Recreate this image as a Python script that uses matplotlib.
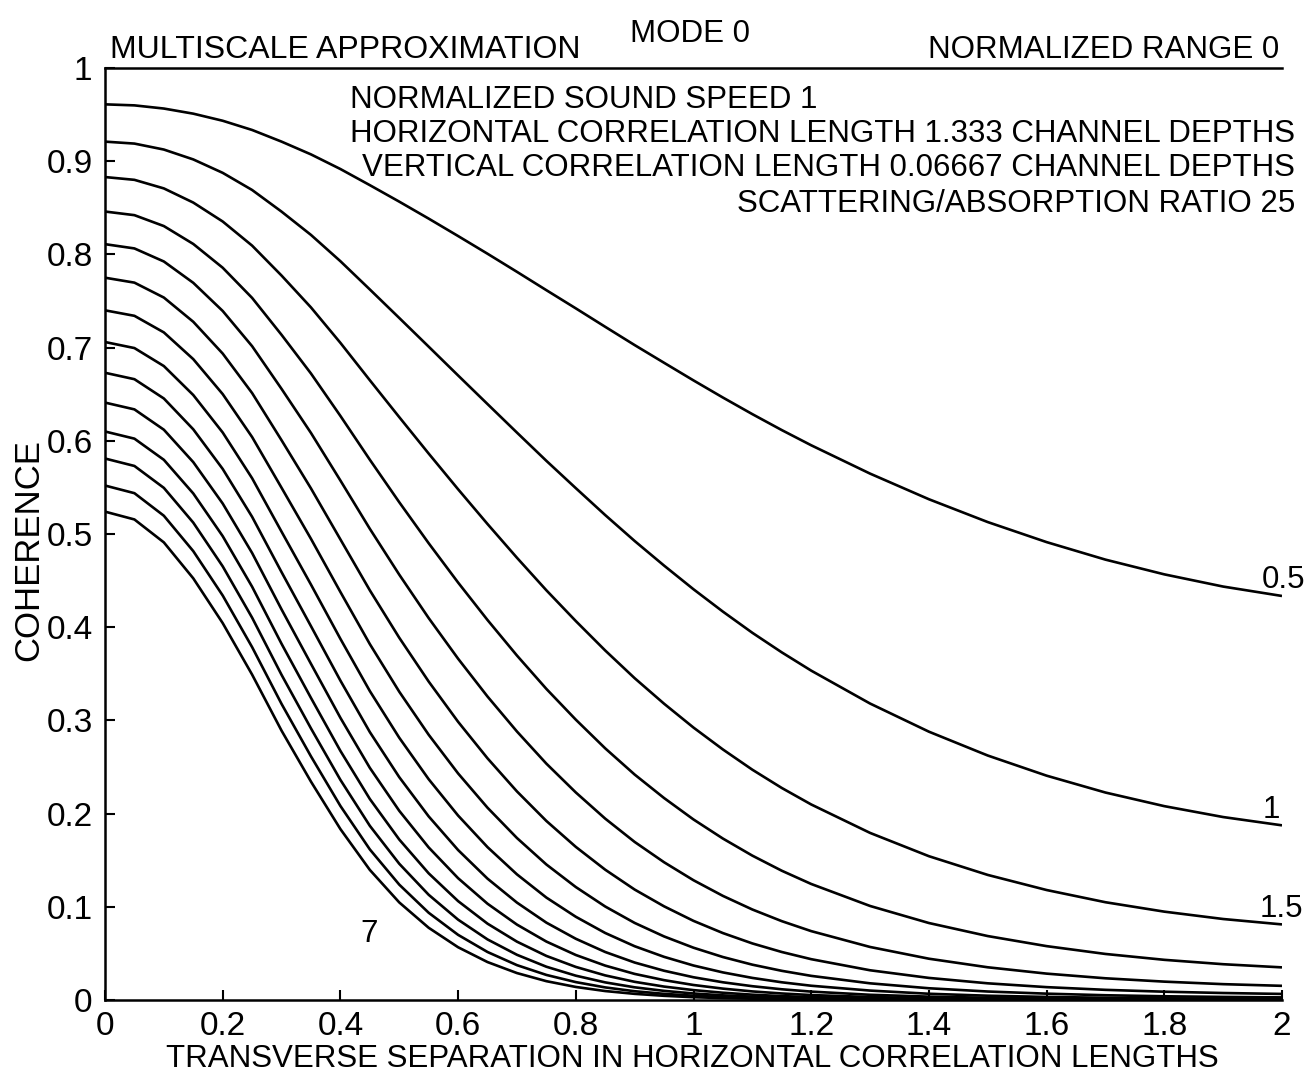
import matplotlib
matplotlib.use("Agg")
import matplotlib.pyplot as plt

plt.rcParams["font.family"] = ["Liberation Sans", "DejaVu Sans"]

# Transverse separation (horizontal correlation lengths)
separation = [0.00, 0.05, 0.10, 0.15, 0.20, 0.25, 0.30, 0.35, 0.40, 0.45, 0.50,
              0.55, 0.60, 0.65, 0.70, 0.75, 0.80, 0.85, 0.90, 0.95, 1.00, 1.05,
              1.10, 1.15, 1.20, 1.30, 1.40, 1.50, 1.60, 1.70, 1.80, 1.90, 2.00]

# Normalized range of each coherence curve
ranges = [0.5, 1.0, 1.5, 2.0, 2.5, 3.0, 3.5, 4.0, 4.5, 5.0, 5.5, 6.0, 6.5, 7.0]

coh_r05 = [0.9610, 0.9599, 0.9565, 0.9510, 0.9434, 0.9335, 0.9210, 0.9073, 0.8916, 0.8743, 0.8566,
           0.8384, 0.8197, 0.8007, 0.7813, 0.7616, 0.7421, 0.7223, 0.7027, 0.6837, 0.6648, 0.6464,
           0.6286, 0.6115, 0.5952, 0.5648, 0.5373, 0.5128, 0.4913, 0.4725, 0.4567, 0.4436, 0.4335]
coh_r10 = [0.9210, 0.9189, 0.9125, 0.9019, 0.8875, 0.8691, 0.8459, 0.8209, 0.7927, 0.7624, 0.7318,
           0.7010, 0.6701, 0.6394, 0.6088, 0.5785, 0.5492, 0.5203, 0.4925, 0.4661, 0.4407, 0.4167,
           0.3940, 0.3730, 0.3534, 0.3181, 0.2879, 0.2623, 0.2407, 0.2226, 0.2080, 0.1963, 0.1874]
coh_r15 = [0.8830, 0.8800, 0.8708, 0.8556, 0.8353, 0.8094, 0.7773, 0.7431, 0.7051, 0.6650, 0.6254,
           0.5863, 0.5480, 0.5107, 0.4745, 0.4396, 0.4066, 0.3750, 0.3453, 0.3179, 0.2923, 0.2688,
           0.2471, 0.2275, 0.2098, 0.1793, 0.1543, 0.1342, 0.1180, 0.1049, 0.0948, 0.0869, 0.0811]
coh_r20 = [0.8460, 0.8421, 0.8304, 0.8112, 0.7857, 0.7533, 0.7137, 0.6722, 0.6267, 0.5797, 0.5341,
           0.4901, 0.4479, 0.4077, 0.3696, 0.3338, 0.3008, 0.2700, 0.2419, 0.2167, 0.1937, 0.1732,
           0.1549, 0.1387, 0.1245, 0.1009, 0.0826, 0.0686, 0.0578, 0.0494, 0.0431, 0.0384, 0.0350]
coh_r25 = [0.8110, 0.8064, 0.7924, 0.7695, 0.7393, 0.7015, 0.6557, 0.6084, 0.5574, 0.5056, 0.4564,
           0.4098, 0.3662, 0.3256, 0.2881, 0.2536, 0.2227, 0.1946, 0.1696, 0.1478, 0.1285, 0.1117,
           0.0971, 0.0846, 0.0739, 0.0569, 0.0443, 0.0351, 0.0283, 0.0233, 0.0197, 0.0170, 0.0152]
coh_r30 = [0.7750, 0.7697, 0.7537, 0.7277, 0.6936, 0.6512, 0.6006, 0.5489, 0.4942, 0.4396, 0.3887,
           0.3417, 0.2985, 0.2593, 0.2238, 0.1921, 0.1643, 0.1398, 0.1185, 0.1005, 0.0849, 0.0718,
           0.0607, 0.0515, 0.0438, 0.0319, 0.0237, 0.0179, 0.0138, 0.0109, 0.0089, 0.0075, 0.0065]
coh_r35 = [0.7400, 0.7341, 0.7163, 0.6876, 0.6501, 0.6040, 0.5496, 0.4948, 0.4378, 0.3819, 0.3308,
           0.2846, 0.2431, 0.2063, 0.1738, 0.1454, 0.1212, 0.1003, 0.0827, 0.0682, 0.0561, 0.0461,
           0.0379, 0.0313, 0.0259, 0.0179, 0.0126, 0.0091, 0.0068, 0.0051, 0.0040, 0.0033, 0.0028]
coh_r40 = [0.7060, 0.6995, 0.6802, 0.6491, 0.6089, 0.5598, 0.5025, 0.4457, 0.3875, 0.3315, 0.2814,
           0.2369, 0.1979, 0.1640, 0.1348, 0.1099, 0.0893, 0.0719, 0.0577, 0.0463, 0.0370, 0.0296,
           0.0237, 0.0190, 0.0153, 0.0101, 0.0067, 0.0046, 0.0033, 0.0024, 0.0018, 0.0015, 0.0012]
coh_r45 = [0.6730, 0.6661, 0.6454, 0.6123, 0.5698, 0.5184, 0.4591, 0.4011, 0.3427, 0.2875, 0.2391,
           0.1970, 0.1609, 0.1302, 0.1045, 0.0830, 0.0657, 0.0515, 0.0402, 0.0314, 0.0244, 0.0190,
           0.0148, 0.0115, 0.0090, 0.0056, 0.0036, 0.0024, 0.0016, 0.0011, 0.0008, 0.0006, 0.0005]
coh_r50 = [0.6410, 0.6337, 0.6119, 0.5771, 0.5327, 0.4796, 0.4191, 0.3607, 0.3028, 0.2491, 0.2030,
           0.1637, 0.1307, 0.1033, 0.0809, 0.0627, 0.0483, 0.0369, 0.0280, 0.0213, 0.0161, 0.0122,
           0.0092, 0.0070, 0.0053, 0.0032, 0.0019, 0.0012, 0.0008, 0.0005, 0.0004, 0.0003, 0.0002]
coh_r55 = [0.6100, 0.6023, 0.5796, 0.5435, 0.4977, 0.4434, 0.3822, 0.3241, 0.2673, 0.2157, 0.1722,
           0.1359, 0.1061, 0.0819, 0.0626, 0.0473, 0.0355, 0.0264, 0.0195, 0.0144, 0.0106, 0.0078,
           0.0057, 0.0042, 0.0031, 0.0018, 0.0010, 0.0006, 0.0004, 0.0002, 0.0002, 0.0001, 0.0001]
coh_r60 = [0.5810, 0.5730, 0.5495, 0.5122, 0.4653, 0.4102, 0.3489, 0.2914, 0.2362, 0.1869, 0.1462,
           0.1129, 0.0862, 0.0650, 0.0485, 0.0357, 0.0261, 0.0189, 0.0136, 0.0098, 0.0070, 0.0050,
           0.0036, 0.0026, 0.0019, 0.0010, 0.0005, 0.0003, 0.0002, 0.0001, 0.0001, 0.0001, 0.0000]
coh_r65 = [0.5520, 0.5438, 0.5196, 0.4816, 0.4340, 0.3786, 0.3177, 0.2614, 0.2082, 0.1616, 0.1238,
           0.0936, 0.0699, 0.0515, 0.0374, 0.0269, 0.0192, 0.0135, 0.0094, 0.0066, 0.0046, 0.0032,
           0.0022, 0.0015, 0.0011, 0.0006, 0.0003, 0.0002, 0.0001, 0.0001, 0.0000, 0.0000, 0.0000]
coh_r70 = [0.5240, 0.5156, 0.4910, 0.4524, 0.4044, 0.3491, 0.2890, 0.2343, 0.1834, 0.1396, 0.1047,
           0.0775, 0.0566, 0.0407, 0.0289, 0.0202, 0.0140, 0.0096, 0.0066, 0.0045, 0.0030, 0.0020,
           0.0014, 0.0009, 0.0006, 0.0003, 0.0002, 0.0001, 0.0000, 0.0000, 0.0000, 0.0000, 0.0000]

curves = [coh_r05, coh_r10, coh_r15, coh_r20, coh_r25, coh_r30, coh_r35,
          coh_r40, coh_r45, coh_r50, coh_r55, coh_r60, coh_r65, coh_r70]

x_ticks = [0, 0.2, 0.4, 0.6, 0.8, 1.0, 1.2, 1.4, 1.6, 1.8, 2.0]
x_tick_labels = ["0", "0.2", "0.4", "0.6", "0.8", "1", "1.2", "1.4", "1.6", "1.8", "2"]
y_ticks = [0, 0.1, 0.2, 0.3, 0.4, 0.5, 0.6, 0.7, 0.8, 0.9, 1.0]
y_tick_labels = ["0", "0.1", "0.2", "0.3", "0.4", "0.5", "0.6", "0.7", "0.8", "0.9", "1"]

W, H = 1314, 1078
FS = 22.5
TICK_FS = 24
fig = plt.figure(figsize=(W / 100, H / 100), dpi=100)
ax = fig.add_axes([105 / W, (H - 1000) / H, (1282 - 105) / W, (1000 - 68) / H])

for vals in curves:
    ax.plot(separation, vals, color="black", lw=1.9,
            solid_capstyle="butt", solid_joinstyle="round")

ax.set_xlim(0, 2)
ax.set_ylim(0, 1)
ax.spines["right"].set_visible(False)
for s in ("left", "bottom", "top"):
    ax.spines[s].set_linewidth(1.8)
ax.set_xticks(x_ticks)
ax.set_xticklabels(x_tick_labels)
ax.set_yticks(y_ticks)
ax.set_yticklabels(y_tick_labels)
ax.tick_params(axis="both", direction="in", length=7, width=1.5,
               labelsize=TICK_FS, top=False, right=False)
ax.tick_params(axis="x", pad=8)
ax.tick_params(axis="y", pad=9)

# Range labels next to selected curves
ax.text(1.966, 0.442, "0.5", fontsize=FS, ha="left", va="baseline")
ax.text(1.981, 0.195, "1", fontsize=FS, ha="center", va="baseline")
ax.text(1.962, 0.089, "1.5", fontsize=FS, ha="left", va="baseline")
ax.text(0.449, 0.062, "7", fontsize=FS, ha="center", va="baseline")


def ftext(x, y, s, size=FS, **kw):
    fig.text(x / W, 1 - y / H, s, fontsize=size, va="baseline", **kw)


ftext(690, 42, "MODE 0", ha="center")
ftext(110, 58, "MULTISCALE APPROXIMATION", size=23, ha="left")
ftext(1279, 58, "NORMALIZED RANGE 0", ha="right")
ftext(350, 108, "NORMALIZED SOUND SPEED 1", ha="left")
ftext(1295, 142, "HORIZONTAL CORRELATION LENGTH 1.333 CHANNEL DEPTHS", ha="right")
ftext(1295, 176, "VERTICAL CORRELATION LENGTH 0.06667 CHANNEL DEPTHS", ha="right")
ftext(1295, 212, "SCATTERING/ABSORPTION RATIO 25", ha="right")
ftext(692, 1067, "TRANSVERSE SEPARATION IN HORIZONTAL CORRELATION LENGTHS", ha="center")
fig.text(29 / W, 1 - 550 / H, "COHERENCE", fontsize=25, rotation=90,
         ha="center", va="center")

fig.savefig("out.png", dpi=100)
